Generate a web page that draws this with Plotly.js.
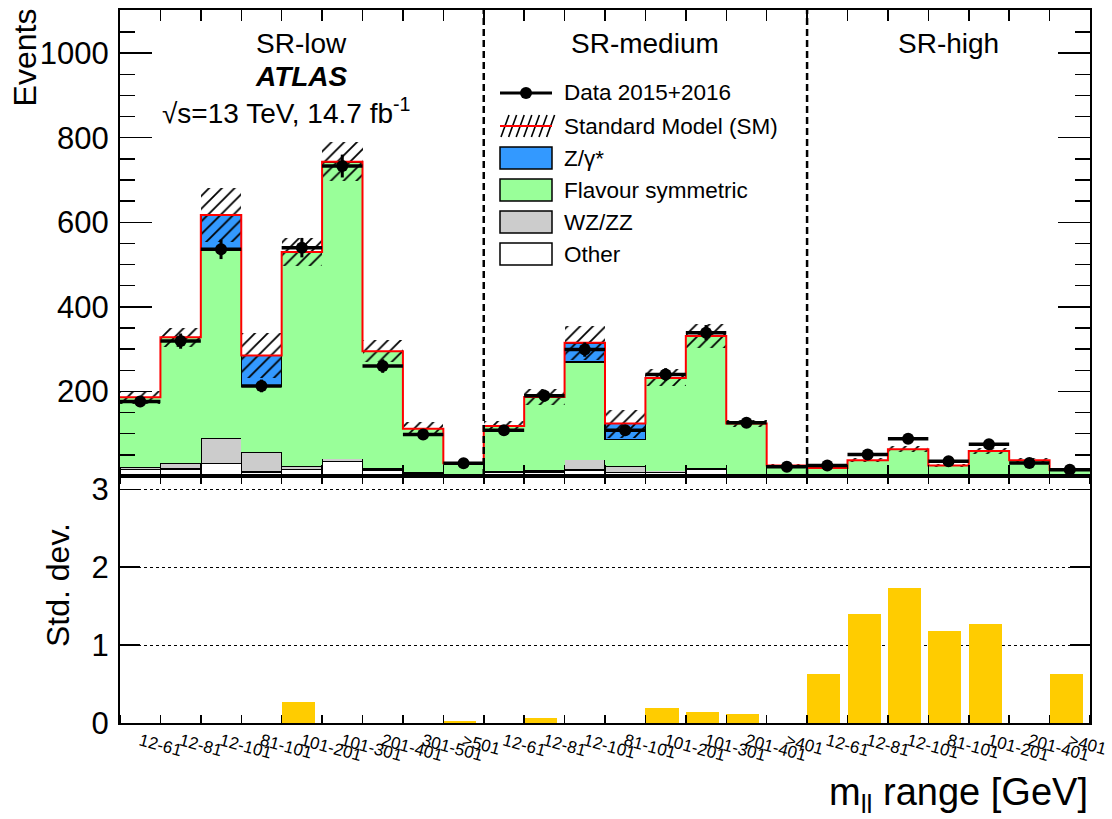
<!DOCTYPE html>
<html>
<head>
<meta charset="utf-8">
<script src="https://cdn.plot.ly/plotly-3.0.1.min.js"></script>
<style>html,body{margin:0;padding:0;background:#fff;}#chart{width:1112px;height:819px;}</style>
</head>
<body>
<div id="chart"></div>
<script>
// ---- Data ----
const binLabels = ['12-61','12-81','12-101','81-101','101-201','101-301','201-401','301-501','>501',
                   '12-61','12-81','12-101','81-101','101-201','101-301','201-401','>401',
                   '12-61','12-81','12-101','81-101','101-201','201-401','>401'];
const regions = ['SR-low','SR-medium','SR-high'];
const regionBins = [9, 8, 7];
const other   = [15,17,29,10,15,34,14,6,3, 8,9,14,8,8,17,3,2, 2,2,2,2,2,2,1];
const wzzz    = [6,13,61,47,8,7,4,3,2, 4,5,25,15,5,3,2,1, 1,2,3,2,3,2,1];
const flavSym = [165,298,446,155,507,702,277,103,25, 106,173,231,63,219,311,119,22, 16,33,58,21,54,33,12];
const zgamma  = [0,0,81,73,0,0,0,0,0, 0,0,45,38,0,0,0,0, 0,0,0,0,0,0,0];
const smUnc   = [15,23,63,54,34,46,26,15,4, 12,18,40,33,20,28,8,3, 3,5,7,4,7,5,2];
const data    = [176,319,536,213,540,733,260,98,30, 108,190,299,108,240,339,126,22, 25,51,88,35,75,31,15];
const dataErr = [13,18,23,15,23,27,16,10,5, 10,14,17,10,15,18,11,5, 5,7,9,6,9,6,4];
const signif  = [0,0,0,0,0.27,0,0,0,0.02, 0,0.06,0,0,0.19,0.14,0.12,0, 0.63,1.40,1.73,1.18,1.27,0,0.63];

// ---- Derived ----
const nb = binLabels.length;
const centers = binLabels.map((_, i) => i + 0.5);
const edges = Array.from({length: nb + 1}, (_, i) => i);
const smTotal = other.map((v, i) => v + wzzz[i] + flavSym[i] + zgamma[i]);
const stepY = smTotal.concat([smTotal[nb - 1]]);

const FONT = 'Liberation Sans, Arial, Helvetica, sans-serif';
// pixel -> paper helpers for layout decorations
const L = 120, R = 22, T = 10, B = 96, W = 1112, H = 819;
const PW = W - L - R, PH = H - T - B;
const PX = p => (p - L) / PW;
const PY = p => (H - B - p) / PH;
const split = PY(476);

const stackBar = (y, color, lineW) => ({
  type: 'bar', x: centers, y: y, width: 1, xaxis: 'x', yaxis: 'y',
  marker: {color: color, line: {color: '#000', width: lineW}},
  showlegend: false, hoverinfo: 'skip'
});

const traces = [
  stackBar(other, '#ffffff', 1.5),
  stackBar(wzzz, '#cccccc', 1.5),
  stackBar(flavSym, '#99ff99', 0),
  stackBar(zgamma, '#3399ff', 1.5),
  { // SM uncertainty hatch
    type: 'bar', x: centers, y: smUnc.map(e => 2 * e), base: smTotal.map((t, i) => t - smUnc[i]),
    width: 1, xaxis: 'x', yaxis: 'y',
    marker: {color: 'rgba(0,0,0,0)', line: {width: 0},
             pattern: {shape: '/', size: 9, solidity: 0.2, fgcolor: '#000', bgcolor: 'rgba(0,0,0,0)', fillmode: 'replace'}},
    showlegend: false, hoverinfo: 'skip'
  },
  { // SM total line
    type: 'scatter', mode: 'lines', x: edges, y: stepY, line: {shape: 'hv', color: '#ff0000', width: 2},
    xaxis: 'x', yaxis: 'y', showlegend: false, hoverinfo: 'skip'
  },
  { // Data
    type: 'scatter', mode: 'markers', x: centers, y: data, xaxis: 'x', yaxis: 'y',
    marker: {color: '#000', size: 12},
    error_x: {type: 'constant', value: 0.5, width: 0, thickness: 3.5, color: '#000'},
    error_y: {type: 'data', array: dataErr, width: 0, thickness: 3, color: '#000'},
    showlegend: false, hoverinfo: 'skip'
  },
  { // significance
    type: 'bar', x: centers, y: signif, width: 0.82, offset: -0.5, xaxis: 'x2', yaxis: 'y2',
    marker: {color: '#ffcc00', line: {width: 0}}, showlegend: false, hoverinfo: 'skip'
  }
];

// ---- decorations ----
const shapes = [];
const annotations = [];
// region separators
let acc = 0;
regionBins.forEach((n, k) => {
  const start = acc;
  acc += n;
  if (k < regionBins.length - 1) {
    shapes.push({type: 'line', xref: 'x', yref: 'paper', x0: acc, x1: acc, y0: split, y1: 1,
                 line: {color: '#000', width: 2.5, dash: '7px,4px'}});
  }
  annotations.push({xref: 'x', yref: 'paper', x: start + n / 2, y: PY(43), text: regions[k],
                    showarrow: false, font: {family: FONT, size: 28, color: '#000'}, xanchor: 'center', yanchor: 'middle'});
});
annotations.push({xref: 'x', yref: 'paper', x: 4.5, y: PY(77), text: '<b><i>ATLAS</i></b>', showarrow: false,
                  font: {family: FONT, size: 28, color: '#000'}, xanchor: 'center', yanchor: 'middle'});
annotations.push({xref: 'paper', yref: 'paper', x: PX(286), y: PY(111), text: '\u221As=13 TeV, 14.7 fb<sup>-1</sup>', showarrow: false,
                  font: {family: FONT, size: 28, color: '#000'}, xanchor: 'center', yanchor: 'middle'});

// axis titles
annotations.push({xref: 'paper', yref: 'paper', x: PX(25), y: 1.005, text: 'Events', textangle: -90, showarrow: false,
                  font: {family: FONT, size: 32, color: '#000'}, xanchor: 'center', yanchor: 'top'});
annotations.push({xref: 'paper', yref: 'paper', x: PX(58), y: PY(585), text: 'Std. dev.', textangle: -90, showarrow: false,
                  font: {family: FONT, size: 32, color: '#000'}, xanchor: 'center', yanchor: 'middle'});
annotations.push({xref: 'paper', yref: 'paper', x: 1, y: PY(795), text: 'm<sub>ll</sub> range [GeV]', showarrow: false,
                  font: {family: FONT, size: 38, color: '#000'}, xanchor: 'right', yanchor: 'middle'});

// legend (manual)
const lx0 = 500, lx1 = 552, tx = 562;
const legendText = ['Data 2015+2016', 'Standard Model (SM)', 'Z/\u03B3*', 'Flavour symmetric', 'WZ/ZZ', 'Other'];
const legendY = [93, 126, 158, 190, 222, 254];
legendText.forEach((t, i) => {
  annotations.push({xref: 'paper', yref: 'paper', x: PX(tx), y: PY(legendY[i]), text: t, showarrow: false,
                    font: {family: FONT, size: 22.5, color: '#000'}, xanchor: 'left', yanchor: 'middle'});
});
// data entry
shapes.push({type: 'line', xref: 'paper', yref: 'paper', x0: PX(lx0), x1: PX(lx1), y0: PY(93), y1: PY(93), line: {color: '#000', width: 3}});
shapes.push({type: 'circle', xref: 'paper', yref: 'paper', x0: PX(520), x1: PX(532), y0: PY(99), y1: PY(87),
             fillcolor: '#000', line: {color: '#000', width: 0}});
// SM entry: hatch + red line
for (let k = 0; k < 7; k++) {
  const xa = lx0 + 1 + k * 7.6;
  shapes.push({type: 'line', xref: 'paper', yref: 'paper', x0: PX(xa), x1: PX(xa + 8), y0: PY(137), y1: PY(115),
               line: {color: '#000', width: 1.6}});
}
shapes.push({type: 'line', xref: 'paper', yref: 'paper', x0: PX(lx0), x1: PX(lx1), y0: PY(126), y1: PY(126), line: {color: '#ff0000', width: 2}});
const boxColors = ['#3399ff', '#99ff99', '#cccccc', '#ffffff'];
boxColors.forEach((c, i) => {
  const yc = legendY[i + 2];
  shapes.push({type: 'rect', xref: 'paper', yref: 'paper', x0: PX(lx0), x1: PX(lx1), y0: PY(yc + 11), y1: PY(yc - 11),
               fillcolor: c, line: {color: '#000', width: 1.5}});
});

const axisCommon = {showline: true, linecolor: '#000', linewidth: 2, mirror: 'ticks', zeroline: false,
                    tickcolor: '#000', ticks: 'inside', showgrid: false};

const layout = {
  width: W, height: H,
  margin: {l: L, r: R, t: T, b: B},
  paper_bgcolor: '#fff', plot_bgcolor: '#fff',
  barmode: 'stack',
  showlegend: false,
  font: {family: FONT, color: '#000'},
  xaxis: Object.assign({}, axisCommon, {
    domain: [0, 1], anchor: 'y', range: [0, nb], tickmode: 'array', tickvals: edges,
    showticklabels: false, ticklen: 11, tickwidth: 1.5
  }),
  yaxis: Object.assign({}, axisCommon, {
    domain: [split, 1], anchor: 'x', range: [0, 1102], tickmode: 'array', tickvals: [200, 400, 600, 800, 1000],
    ticklen: 32, tickwidth: 1.5, tickfont: {family: FONT, size: 31}, ticklabelstandoff: 3,
    minor: {tickmode: 'linear', tick0: 0, dtick: 50, ticks: 'inside', ticklen: 15, tickwidth: 1.5, tickcolor: '#000'}
  }),
  xaxis2: Object.assign({}, axisCommon, {
    domain: [0, 1], anchor: 'y2', range: [0, nb], matches: 'x', tickmode: 'array', tickvals: centers, ticktext: binLabels,
    ticks: '', tickangle: 15, tickfont: {family: FONT, size: 17},
    minor: {tickmode: 'array', tickvals: edges, ticks: 'inside', ticklen: 8, tickwidth: 1.5, tickcolor: '#000'}
  }),
  yaxis2: Object.assign({}, axisCommon, {
    domain: [0, split], anchor: 'x2', range: [0, 3.17], tickmode: 'array', tickvals: [0, 1, 2, 3],
    ticklen: 20, tickwidth: 1.5, tickfont: {family: FONT, size: 31}, ticklabelstandoff: 3,
    showgrid: true, gridcolor: '#000', gridwidth: 1, griddash: 'dot'
  }),
  shapes: shapes,
  annotations: annotations
};

Plotly.newPlot('chart', traces, layout, {displayModeBar: false, staticPlot: true});
</script>
</body>
</html>
